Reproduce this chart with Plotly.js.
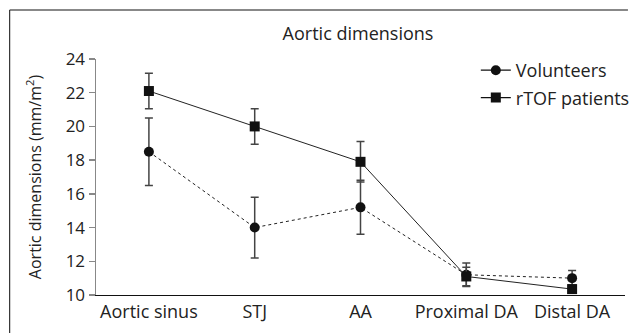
<!DOCTYPE html>
<html>
<head>
<meta charset="utf-8">
<script src="https://cdn.plot.ly/plotly-3.0.1.min.js"></script>
<style>html,body{margin:0;padding:0;background:#fff}#chart{width:638px;height:333px}</style>
</head>
<body>
<div id="chart"></div>
<script>
var categories = ["Aortic sinus", "STJ", "AA", "Proximal DA", "Distal DA"];
var volunteers = [18.5, 14.0, 15.2, 11.2, 11.0];
var volunteersErr = [2.0, 1.8, 1.6, 0.7, 0.45];
var rtof = [22.1, 20.0, 17.9, 11.1, 10.35];
var rtofErr = [1.05, 1.05, 1.2, 0.55, 0.25];
var yTicks = [10, 12, 14, 16, 18, 20, 22, 24];
var seriesNames = ["Volunteers", "rTOF patients"];

var FONT = "Open Sans, sans-serif";
var xIdx = categories.map(function(_, i){ return i; });

var traces = [
  {
    x: xIdx, y: volunteers, name: seriesNames[0], type: "scatter", mode: "lines+markers", showlegend: false,
    line: {color: "#222", width: 1, dash: "dot"},
    marker: {symbol: "circle", size: 10, color: "#111"},
    error_y: {type: "data", array: volunteersErr, visible: true, color: "#444", thickness: 1.5, width: 4}
  },
  {
    x: xIdx, y: rtof, name: seriesNames[1], type: "scatter", mode: "lines+markers", showlegend: false,
    line: {color: "#222", width: 1},
    marker: {symbol: "square", size: 10, color: "#111"},
    error_y: {type: "data", array: rtofErr, visible: true, color: "#444", thickness: 1.5, width: 4}
  },
  // legend entries (solid line + marker, as in the reference legend)
  {x: [null], y: [null], name: seriesNames[0], type: "scatter", mode: "lines+markers", legendgroup: "a",
   line: {color: "#111", width: 1.2}, marker: {symbol: "circle", size: 10, color: "#111"}},
  {x: [null], y: [null], name: seriesNames[1], type: "scatter", mode: "lines+markers", legendgroup: "b",
   line: {color: "#111", width: 1.2}, marker: {symbol: "square", size: 10, color: "#111"}}
];

var L = 96, R = 3, T = 59, B = 38, W = 638, H = 333;
var pw = W - L - R, ph = H - T - B;
function px(x){ return (x - L) / pw; }
function py(y){ return (H - B - y) / ph; }

var layout = {
  width: W, height: H,
  margin: {l: L, r: R, t: T, b: B, pad: 0},
  paper_bgcolor: "#fff", plot_bgcolor: "#fff",
  font: {family: FONT, color: "#222", size: 16},
  title: {text: "Aortic dimensions", font: {family: FONT, size: 18, color: "#222"}, x: 358/W, xanchor: "center", y: 1 - 34/H, yanchor: "middle"},
  showlegend: true,
  legend: {x: px(483), xanchor: "left", y: py(52), yanchor: "top", bgcolor: "rgba(0,0,0,0)",
           font: {family: FONT, size: 18, color: "#222"}, tracegroupgap: 1, itemwidth: 30},
  xaxis: {
    range: [-0.5, 4.5], tickmode: "array", tickvals: xIdx, ticktext: categories,
    showgrid: false, zeroline: false, showline: true, linecolor: "#111", linewidth: 1.2,
    ticks: "", tickfont: {family: FONT, size: 18, color: "#222"}, fixedrange: true
  },
  yaxis: {
    range: [10, 24], tickmode: "array", tickvals: yTicks,
    showgrid: false, zeroline: false, showline: true, linecolor: "#888", linewidth: 1.5,
    ticks: "outside", ticklen: 6, tickcolor: "#888", tickwidth: 1.5,
    tickfont: {family: FONT, size: 17, color: "#222"},
    title: {text: "Aortic dimensions (mm/m<sup>2</sup>)", font: {family: FONT, size: 16, color: "#222"}, standoff: 20},
    fixedrange: true
  },
  shapes: [
    {type: "line", xref: "paper", yref: "paper", x0: px(8), x1: px(638), y0: py(10), y1: py(10), line: {color: "#888", width: 2}},
    {type: "line", xref: "paper", yref: "paper", x0: px(8), x1: px(8), y0: py(10), y1: py(333), line: {color: "#333", width: 1.2}}
  ]
};

Plotly.newPlot("chart", traces, layout, {displayModeBar: false, staticPlot: true});
</script>
</body>
</html>
